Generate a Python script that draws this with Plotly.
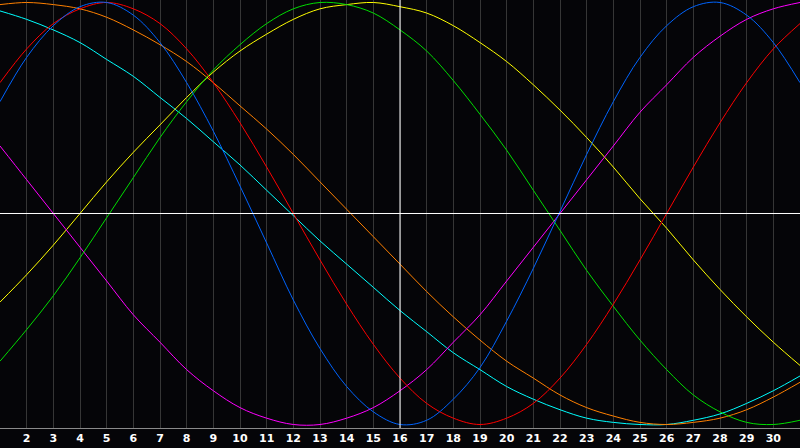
import plotly.graph_objects as go

days = list(range(1, 32))
tick_days = list(range(2, 31))
tick_labels = [str(d) for d in tick_days]
today = 16

physical_23 = [0.53, 0.74, 0.89, 0.98, 1.00, 0.94, 0.81, 0.62, 0.39, 0.13, -0.14, -0.41, -0.64, -0.82, -0.94, -1.00,
               -0.98, -0.88, -0.73, -0.51, -0.26, 0.01, 0.28, 0.53, 0.74, 0.89, 0.98, 1.00, 0.94, 0.81, 0.62]
emotional_28 = [0.62, 0.78, 0.90, 0.97, 1.00, 0.97, 0.90, 0.78, 0.62, 0.43, 0.22, 0.00, -0.22, -0.43, -0.62, -0.78,
                -0.90, -0.97, -1.00, -0.97, -0.90, -0.78, -0.62, -0.43, -0.22, 0.00, 0.22, 0.43, 0.62, 0.78, 0.90]
intellectual_33 = [-0.70, -0.55, -0.39, -0.21, -0.02, 0.17, 0.36, 0.53, 0.68, 0.80, 0.90, 0.97, 1.00, 0.99, 0.95, 0.87,
                   0.77, 0.63, 0.47, 0.30, 0.11, -0.08, -0.27, -0.44, -0.60, -0.74, -0.86, -0.94, -0.99, -1.00, -0.98]
intuitive_38 = [0.32, 0.16, 0.00, -0.16, -0.32, -0.48, -0.61, -0.74, -0.84, -0.92, -0.97, -1.00, -1.00, -0.97, -0.92,
                -0.84, -0.74, -0.61, -0.48, -0.32, -0.16, 0.00, 0.16, 0.32, 0.48, 0.61, 0.74, 0.84, 0.92, 0.97, 1.00]
aesthetic_43 = [-0.42, -0.29, -0.15, 0.00, 0.15, 0.29, 0.42, 0.55, 0.67, 0.77, 0.85, 0.92, 0.97, 0.99, 1.00, 0.98,
                0.95, 0.89, 0.81, 0.72, 0.61, 0.49, 0.36, 0.22, 0.07, -0.07, -0.22, -0.36, -0.49, -0.61, -0.72]
awareness_48 = [0.99, 1.00, 0.99, 0.97, 0.93, 0.87, 0.80, 0.72, 0.62, 0.51, 0.40, 0.28, 0.15, 0.02, -0.11, -0.24,
                -0.37, -0.49, -0.60, -0.70, -0.78, -0.86, -0.92, -0.96, -0.99, -1.00, -0.99, -0.97, -0.93, -0.87, -0.80]
spiritual_53 = [0.96, 0.92, 0.87, 0.81, 0.73, 0.65, 0.55, 0.45, 0.34, 0.23, 0.11, -0.01, -0.13, -0.24, -0.35, -0.46,
                -0.56, -0.66, -0.74, -0.82, -0.88, -0.93, -0.97, -0.99, -1.00, -1.00, -0.98, -0.95, -0.90, -0.84, -0.77]

series = [
    ("Spiritual", spiritual_53, "#00ffff"),
    ("Awareness", awareness_48, "#ff8000"),
    ("Aesthetic", aesthetic_43, "#ffff00"),
    ("Intuitive", intuitive_38, "#ff00ff"),
    ("Intellectual", intellectual_33, "#00dd00"),
    ("Emotional", emotional_28, "#ff0000"),
    ("Physical", physical_23, "#0064ff"),
]

fig = go.Figure()
for name, vals, col in series:
    fig.add_trace(go.Scatter(x=days, y=vals, mode="lines", name=name,
                             line=dict(color=col, width=1, shape="spline", smoothing=1.0),
                             hoverinfo="skip"))

bg = "#050508"
fig.update_layout(
    width=800, height=448,
    margin=dict(l=0, r=0, t=0, b=20),
    paper_bgcolor=bg, plot_bgcolor=bg,
    showlegend=False,
    xaxis=dict(range=[1, 31], tickvals=tick_days, ticktext=tick_labels,
               showgrid=True, gridcolor="#363636", gridwidth=1,
               zeroline=False, ticks="", showline=True, linecolor="#8a8a8a", mirror=True,
               tickfont=dict(family="DejaVu Sans", size=11, color="white", weight="bold"),
               fixedrange=True),
    yaxis=dict(range=[-1.0166, 1.0118], showgrid=False, zeroline=False, showticklabels=False,
               ticks="", showline=True, linecolor="#8a8a8a", mirror=True, fixedrange=True),
)

fig.add_shape(type="line", xref="paper", yref="y", x0=0, x1=1, y0=0, y1=0,
              line=dict(color="white", width=1), layer="above")
fig.add_shape(type="line", xref="x", yref="paper", x0=today, x1=today, y0=0, y1=1,
              line=dict(color="white", width=1), layer="above")

fig.write_html("out.html", config={"displayModeBar": False, "staticPlot": True},
               post_script="document.body.style.margin='0px';document.body.style.background='#050508';")
